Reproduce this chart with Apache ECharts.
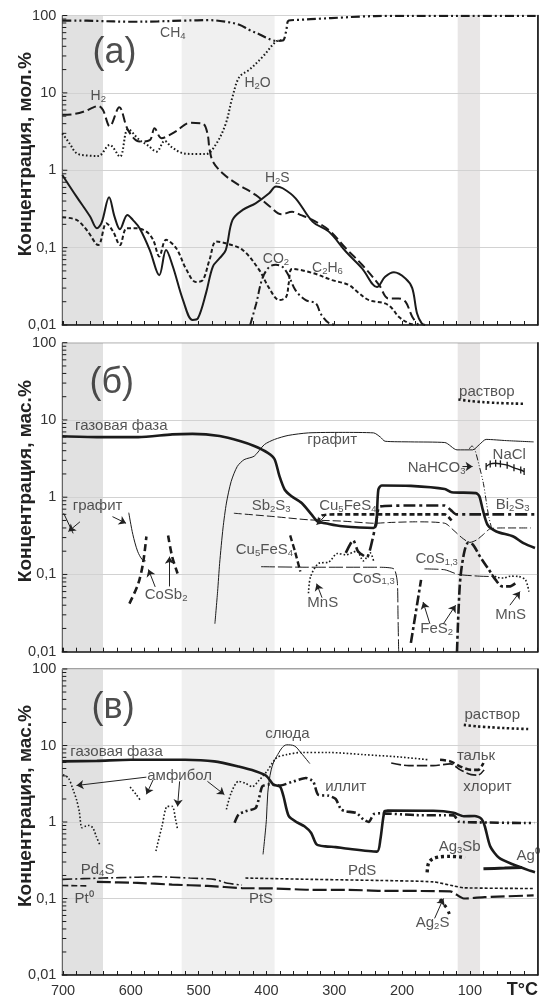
<!DOCTYPE html>
<html>
<head>
<meta charset="utf-8">
<script src="https://cdn.jsdelivr.net/npm/echarts@6/dist/echarts.min.js"></script>
<style>html,body{margin:0;padding:0;background:#fff}#c{width:540px;height:999px}</style>
</head>
<body>
<div id="c"></div>
<script>
const FONT = '"Liberation Sans", Arial, sans-serif';
const INK = '#1b1b1b';

// ---- axes ----
const xLabelStep = 100;
const yTicks = [0.01,0.02,0.03,0.04,0.05,0.06,0.07,0.08,0.09,0.1,0.2,0.3,0.4,0.5,0.6,0.7,0.8,0.9,1,2,3,4,5,6,7,8,9,10,20,30,40,50,60,70,80,90,100];
const yMajor = [0.01,0.1,1,10,100];
const yTitles = ['Концентрация, мол.%','Концентрация, мас.%','Концентрация, мас.%'];

// shaded temperature intervals [from, to, colour]
const bands = [[701,641,'#e1e1e1'],[525,388,'#f0f0f0'],[118,85,'#e8e6e6']];

// ---- (а) gas composition, mol.% : [T, value] ----
const ch4 = [[701,86],[680,86],[650,85],[600,83],[560,84],[520,86],[484,87],[460,83],[440,76],[425,65],[410,57],[401,52],[386,47],[376,47.5],[371,62],[367,86],[350,88],[320,91],[290,94],[260,97],[220,99],[150,99],[80,99],[3,99]];
const h2o = [[701,3.0],[690,2.2],[680,1.66],[665,1.55],[648,1.53],[631,2.12],[616,1.5],[604,3.4],[587,2.45],[575,2.1],[562,1.74],[550,2.4],[540,2.0],[523,1.66],[505,1.62],[489,1.62],[474,2.2],[460,4.0],[450,8.9],[440,16],[425,20],[406,29],[386,46],[378,48]];
const h2 = [[701,5.2],[685,5.3],[670,5.7],[655,6.5],[648,6.8],[641,6.0],[631,3.7],[617,6.5],[604,3.3],[587,2.35],[572,2.45],[565,3.5],[555,2.6],[548,2.7],[533,3.2],[513,4.1],[494,4.0],[487,3.0],[484,1.9],[479,1.3],[465,0.92],[445,0.68],[416,0.48],[395,0.34],[378,0.27],[362,0.29],[350,0.265],[332,0.228],[308,0.169],[283,0.098],[259,0.06],[234,0.033],[220,0.022],[205,0.022],[195,0.02],[185,0.0128],[176,0.01]];
const h2s = [[701,0.87],[680,0.456],[660,0.252],[650,0.178],[643,0.21],[632,0.448],[624,0.252],[616,0.173],[605,0.265],[597,0.228],[587,0.178],[572,0.093],[558,0.044],[548,0.093],[538,0.057],[523,0.021],[509,0.0116],[501,0.0122],[489,0.026],[479,0.057],[469,0.073],[460,0.093],[450,0.228],[435,0.307],[416,0.374],[396,0.504],[386,0.616],[376,0.585],[357,0.434],[332,0.217],[308,0.161],[283,0.089],[259,0.054],[237,0.031],[225,0.042],[212,0.048],[195,0.04],[185,0.03],[178,0.0142],[171,0.0105],[166,0.01]];
const c2h6 = [[701,0.247],[680,0.228],[665,0.169],[648,0.108],[636,0.206],[626,0.161],[616,0.108],[606,0.178],[592,0.178],[577,0.161],[567,0.126],[558,0.077],[548,0.126],[533,0.098],[518,0.052],[504,0.036],[494,0.038],[484,0.069],[474,0.12],[460,0.114],[435,0.093],[411,0.052],[396,0.03],[381,0.021],[371,0.023],[367,0.035],[362,0.053],[332,0.047],[303,0.038],[279,0.033],[264,0.026],[249,0.021],[225,0.019],[215,0.0165],[205,0.0128],[190,0.0105],[181,0.01]];
const co2 = [[424,0.01],[415,0.019],[406,0.04],[396,0.056],[386,0.06],[376,0.056],[367,0.043],[357,0.028],[342,0.021],[327,0.019],[320,0.014],[308,0.0106],[296,0.01]];

// ---- (б) solid phases, mass % ----
const gasB = [[701,6.15],[650,6.0],[589,6.0],[539,6.5],[509,6.6],[469,6.2],[438,5.3],[418,4.6],[398,3.75],[388,3.1],[381,1.9],[373,1.25],[363,1.03],[348,0.84],[333,0.59],[325,0.49],[308,0.45],[288,0.42],[242,0.40],[238,0.45],[235,1.25],[230,1.42],[187,1.4],[137,1.28],[127,1.16],[91,1.13],[86,1.03],[81,0.69],[74,0.44],[61,0.36],[36,0.31],[21,0.254],[4,0.22]];
const graphiteB = [[476,0.023],[472,0.06],[469,0.139],[464,0.4],[459,0.84],[452,1.6],[443,2.5],[433,3.06],[418,3.4],[403,4.8],[388,5.6],[368,6.3],[338,6.8],[288,6.9],[242,6.8],[232,6.0],[225,5.3],[187,5.2],[137,5.1],[119,4.1],[96,4.1],[86,4.8],[76,5.6],[46,5.4],[6,5.2]];
const graphiteB1 = [[699,0.62],[685,0.34]];
const graphiteB2 = [[603,0.63],[597,0.33],[590,0.2],[583,0.155],[578,0.15]];
const sb2s3 = [[448,0.62],[388,0.56],[338,0.51],[288,0.49],[240,0.46],[220,0.47],[180,0.48],[137,0.46],[125,0.38],[112,0.3],[100,0.26],[90,0.28],[80,0.33],[70,0.39],[50,0.40],[10,0.40]];
const cu5fes4A = [[325,0.47],[318,0.58],[300,0.6],[240,0.6],[180,0.6],[137,0.6],[127,0.5]];
const cu5fes4B = [[365,0.32],[358,0.2],[350,0.109]];
const bi2s3 = [[283,0.19],[272,0.28],[265,0.2],[252,0.166],[243,0.3],[237,0.55],[233,0.76],[180,0.78],[137,0.78],[128,0.68],[120,0.6],[100,0.6],[50,0.6],[3,0.6]];
const cos13A = [[408,0.126],[338,0.124],[237,0.124],[212,0.118],[207,0.08],[206,0.03],[205,0.01]];
const cos13B = [[167,0.118],[137,0.115],[117,0.1],[86,0.095],[66,0.094]];
const mnsA = [[338,0.057],[335,0.093],[323,0.139],[308,0.145],[295,0.187],[283,0.18],[267,0.2],[257,0.15],[247,0.19],[242,0.15]];
const mnsB = [[68,0.1],[60,0.092],[50,0.09],[40,0.095],[28,0.094],[18,0.085],[13,0.06]];
const fes2A = [[187,0.013],[172,0.085]];
const fes2B = [[119,0.01],[117,0.03],[114,0.09],[108,0.2],[102,0.26],[95,0.24],[85,0.17],[72,0.115],[62,0.085],[52,0.07],[42,0.07],[32,0.078]];
const cosb2A = [[602,0.042],[589,0.076],[582,0.139],[577,0.31]];
const cosb2B = [[545,0.32],[539,0.17],[531,0.103]];
const nahco3 = [[101,4.2],[97,4.6],[93,4.2],[86,2.5],[80,1.5],[76,0.9],[72,0.55],[68,0.4]];
const nacl = [[76,2.5],[70,2.7],[62,2.75],[55,2.7],[45,2.6],[35,2.4],[25,2.25],[20,2.15]];
const solB = [[117,18.4],[100,17.6],[80,17],[60,16.6],[35,16.3],[20,16.2]];

// ---- (в) silicates and noble-metal phases, mass % ----
const gasC = [[701,6.2],[650,6.3],[600,6.5],[520,6.5],[477,6.2],[441,5.3],[416,4.6],[400,4.0],[390,3.1],[380,2.9],[375,2.2],[367,1.19],[354,0.98],[344,0.88],[334,0.72],[326,0.51],[313,0.48],[298,0.47],[283,0.45],[237,0.41],[232,0.59],[226,1.38],[221,1.41],[154,1.4],[124,1.32],[109,1.19],[93,1.2],[83,1.1],[78,0.88],[70,0.48],[57,0.34],[37,0.28],[11,0.23],[4,0.22]];
const mica = [[405,0.377],[400,1.08],[398,2.4],[393,4.8],[385,7.2],[370,10.2],[359,9.9],[349,8.0],[336,5.8]];
const amphA = [[700,4.16],[692,3.76],[685,2.63],[680,1.95],[676,1.38],[672,0.84],[667,0.88],[662,0.9],[656,0.84],[651,0.65],[646,0.51]];
const amphB = [[601,2.87],[592,2.28],[585,1.87]];
const amphC = [[563,0.417],[554,0.88],[546,1.6],[539,1.6],[534,1.08],[531,0.8]];
const amphD = [[459,1.46],[452,2.4],[441,3.4],[431,3.2],[421,2.9],[411,3.5],[400,4.5],[385,6.9],[370,7.6],[349,8.1],[308,8.1],[257,7.6],[206,7.1],[160,6.5]];
const illite = [[447,0.98],[441,1.26],[431,1.38],[416,1.52],[411,2.04],[406,2.93],[395,3.1],[380,3.0],[360,3.4],[342,3.76],[331,3.4],[324,2.28],[308,2.2],[298,2.0],[290,1.46],[283,1.38],[267,1.31],[257,1.08],[249,1.0],[242,1.26],[232,1.3],[180,1.23],[124,1.22],[116,1.01],[90,0.99],[20,0.97],[5,0.97]];
const talc = [[144,6.5],[129,6.2],[114,5.3],[98,4.8],[88,4.8],[80,5.9]];
const chlorite = [[216,5.9],[190,5.45],[154,5.45],[129,5.75],[114,4.8],[98,4.16],[88,4.1],[79,4.8]];
const solC = [[109,18.6],[90,17.8],[70,17.3],[50,16.9],[30,16.6],[14,16.4]];
const pd4s = [[701,0.178],[641,0.185],[590,0.19],[564,0.193],[513,0.185],[477,0.178],[457,0.158],[436,0.15]];
const pds = [[431,0.185],[334,0.178],[232,0.172],[154,0.165],[124,0.146],[109,0.138],[6,0.135]];
const pt0 = [[701,0.148],[662,0.146]];
const pts = [[650,0.165],[590,0.16],[539,0.152],[487,0.146],[436,0.137],[385,0.135],[334,0.13],[283,0.13],[232,0.126],[129,0.124],[109,0.1],[78,0.104],[6,0.11]];
const ag3sb = [[163,0.22],[161,0.29],[155,0.33],[145,0.35],[130,0.355],[115,0.35],[107,0.34]];
const ag2s = [[144,0.098],[139,0.085],[134,0.075],[129,0.059]];
const ag0 = [[80,0.245],[49,0.25],[23,0.255]];

// ---- annotations: [text, T, value] ----
const notesA = [['CH{s|4}',538,60],['H{s|2}O',413,13.3],['H{s|2}',648,9.1],['H{s|2}S',384,0.79],['CO{s|2}',386,0.0715],['C{s|2}H{s|6}',310,0.054]];
const notesB = [['газовая фаза',614,8.3],['графит',303,5.6],['NaHCO{s|3}',149,2.4],['NaCl',42,3.55],['Bi{s|2}S{s|3}',37,0.79],['Sb{s|2}S{s|3}',393,0.78],['Cu{s|5}FeS{s|4}',280,0.78],['Cu{s|5}FeS{s|4}',403,0.21],['CoS{s|1,3}',242,0.089],['CoS{s|1,3}',149,0.158],['MnS',317,0.043],['MnS',40,0.03],['FeS{s|2}',149,0.02],['CoSb{s|2}',548,0.054],['графит',649,0.78],['раствор',75,23]];
const notesC = [['газовая фаза',621,8.3],['амфибол',528,4.0],['иллит',283,2.9],['слюда',369,14.2],['тальк',91,7.4],['хлорит',74,2.9],['раствор',67,25],['Ag{s|3}Sb',115,0.48],['Ag⁰',14,0.36],['Ag{s|2}S',155,0.048],['PdS',259,0.23],['PtS',408,0.098],['Pt⁰',669,0.098],['Pd{s|4}S',649,0.24]];
const panelTags = [['(а)',624,32.5],['(б)',628,30],['(в)',626,31]];

// ---- pointer arrows: [[T0, v0], [T1, v1]] ----
const arrowsB = [[[675,0.48],[692,0.36]],[[627,0.56],[607,0.46]],[[564,0.069],[574,0.116]],[[543,0.07],[543,0.17]],[[313,0.58],[326,0.44]],[[318,0.05],[326,0.076]],[[111,2.5],[96,2.5]],[[159,0.023],[169,0.044]],[[139,0.023],[121,0.04]],[[41,0.04],[26,0.06]]];
const arrowsC = [[[577,3.86],[680,3.0]],[[567,3.57],[577,2.3]],[[528,3.4],[531,1.6]],[[487,3.4],[462,2.28]],[[152,0.055],[139,0.1]]];

// ---- build ----
const grids = [
  {left: 62.3, right: 2.3, top: 15.5, height: 309.5},
  {left: 62.3, right: 2.3, top: 342.7, height: 309},
  {left: 62.3, right: 2.3, top: 669, height: 306}
].map(g => Object.assign(g, {show: true, borderColor: '#444', borderWidth: 1, backgroundColor: 'transparent', outerBoundsMode: 'none', containLabel: false}));

const xAxes = [0, 1, 2].map(i => ({
  gridIndex: i, type: 'value', min: 0, max: 701, interval: 20, inverse: true,
  axisLine: {show: true, onZero: false, lineStyle: {color: INK, width: 1.6}},
  axisTick: {show: true, inside: true, length: 4, lineStyle: {color: INK, width: 1}},
  axisLabel: {show: i === 2, fontFamily: FONT, fontSize: 14.5, color: '#333', margin: 8,
    showMinLabel: false, showMaxLabel: false,
    formatter: v => (v > 0 && v % xLabelStep === 0) ? String(v) : ''},
  splitLine: {show: false}
}));

const yAxes = [0, 1, 2].map(i => ({
  gridIndex: i, type: 'log', logBase: 10, min: 0.01, max: 100, position: 'left',
  axisLine: {show: true, lineStyle: {color: INK, width: 1.6}},
  axisTick: {show: false},
  axisLabel: {fontFamily: FONT, fontSize: 14.5, color: '#333', margin: 6,
    formatter: v => String(+(+v).toPrecision(3)).replace('.', ',')},
  splitLine: {show: true, lineStyle: {color: '#d2d2d2', width: 1}},
  name: yTitles[i], nameLocation: 'middle', nameGap: 27, nameMoveOverlap: false,
  nameTextStyle: {fontFamily: FONT, fontSize: 19, fontWeight: 'bold', color: '#222', padding: [0, 0, 0, 32]}
}));

function curve(p, data, width, dash, smooth) {
  return {
    type: 'line', xAxisIndex: p, yAxisIndex: p, data: data,
    showSymbol: false, symbol: 'none', smooth: smooth === undefined ? 0.3 : smooth,
    lineStyle: {color: INK, width: width, type: dash || 'solid'},
    silent: true, z: 3
  };
}

// decade / sub-decade ticks on the log axis, placed through the axis scale
function logTicks(p) {
  return {
    type: 'custom', xAxisIndex: p, yAxisIndex: p, silent: true, z: 4, clip: false,
    data: yTicks.map(v => [701, v]),
    renderItem: (params, api) => {
      const v = api.value(1);
      const pt = api.coord([api.value(0), v]);
      const len = yMajor.indexOf(v) >= 0 ? 5 : 4;
      return {type: 'line', shape: {x1: pt[0], y1: pt[1], x2: pt[0] + len, y2: pt[1]},
        style: {stroke: INK, lineWidth: 1}};
    }
  };
}

function notes(p, list, size) {
  return {
    type: 'scatter', xAxisIndex: p, yAxisIndex: p, symbolSize: 0, silent: true, z: 6,
    data: list.map(n => ({value: [n[1], n[2]], name: n[0]})),
    label: {
      show: true, position: 'inside', formatter: d => d.name,
      fontFamily: FONT, fontSize: size || 14, color: '#2a2a2a', lineHeight: 17,
      rich: {s: {fontFamily: FONT, fontSize: 9.5, lineHeight: 9, verticalAlign: 'bottom', color: '#2a2a2a'}}
    }
  };
}

function arrows(p, list) {
  return {
    type: 'lines', coordinateSystem: 'cartesian2d', xAxisIndex: p, yAxisIndex: p,
    symbol: ['none', 'arrow'], symbolSize: 7, silent: true, z: 5,
    lineStyle: {color: '#222', width: 1, opacity: 1, curveness: 0},
    data: list.map(a => ({coords: a}))
  };
}

function shading(p) {
  return {
    type: 'line', xAxisIndex: p, yAxisIndex: p, data: [], z: -1, silent: true,
    markArea: {silent: true, z: -1,
      data: bands.map(b => [{xAxis: b[0], itemStyle: {color: b[2]}}, {xAxis: b[1]}])}
  };
}

const DASHDOT2 = [9, 3, 2, 3, 2, 3];
const series = [
  shading(0), shading(1), shading(2),
  logTicks(0), logTicks(1), logTicks(2),
  // (а)
  curve(0, ch4, 2.2, DASHDOT2, 0.35),
  curve(0, h2o, 2, [1.6, 2.2], 0.35),
  curve(0, h2, 2, [9, 4], 0.35),
  curve(0, h2s, 2, 'solid', 0.35),
  curve(0, c2h6, 2, [4, 2.5], 0.35),
  curve(0, co2, 2, [8, 3, 2, 3], 0.35),
  // (б)
  curve(1, gasB, 2.6, 'solid', 0.25),
  curve(1, graphiteB, 1, 'solid', 0.25),
  curve(1, graphiteB1, 1, 'solid', 0),
  curve(1, graphiteB2, 1, 'solid', 0.3),
  curve(1, sb2s3, 1, [8, 3], 0.25),
  curve(1, cu5fes4A, 2.6, [5, 3], 0.2),
  curve(1, cu5fes4B, 2.4, [6, 3], 0.2),
  curve(1, bi2s3, 2.6, [12, 4, 3, 4], 0.2),
  curve(1, cos13A, 1, [14, 3], 0.2),
  curve(1, cos13B, 1, [14, 3], 0.2),
  curve(1, mnsA, 1.6, [1.6, 2], 0.3),
  curve(1, mnsB, 1.6, [1.6, 2], 0.3),
  curve(1, fes2A, 2.6, [10, 3, 3, 3], 0),
  curve(1, fes2B, 2.6, [10, 3, 3, 3], 0.3),
  curve(1, cosb2A, 2.6, [7, 4], 0.3),
  curve(1, cosb2B, 2.6, [7, 4], 0.3),
  curve(1, nahco3, 1, [6, 2, 1, 2, 1, 2], 0.3),
  Object.assign(curve(1, nacl, 1.4, 'solid', 0.3), {showSymbol: true, symbol: 'rect', symbolSize: [1.3, 7], itemStyle: {color: INK}}),
  curve(1, solB, 2.6, [2.4, 2.4], 0.3),
  // (в)
  curve(2, gasC, 2.6, 'solid', 0.25),
  curve(2, mica, 1, 'solid', 0.35),
  curve(2, amphA, 1.6, [1.6, 2], 0.3),
  curve(2, amphB, 1.6, [1.6, 2], 0.3),
  curve(2, amphC, 1.6, [1.6, 2], 0.3),
  curve(2, amphD, 1.6, [1.6, 2], 0.3),
  curve(2, illite, 2.6, DASHDOT2, 0.2),
  curve(2, talc, 2.6, [6, 3], 0.3),
  curve(2, chlorite, 1.6, [10, 3], 0.3),
  curve(2, solC, 2.6, [2.4, 2.4], 0.3),
  curve(2, pd4s, 1.6, [10, 3, 2, 3], 0.2),
  curve(2, pds, 1.6, [3, 2], 0.2),
  curve(2, pt0, 1.6, [6, 3], 0),
  curve(2, pts, 2.2, [14, 4], 0.2),
  curve(2, ag3sb, 3.4, [3, 3], 0.3),
  curve(2, ag2s, 3, [2.5, 5], 0.2),
  curve(2, ag0, 3, 'solid', 0.2),
  // annotations
  notes(0, notesA, 14), notes(1, notesB, 15), notes(2, notesC, 15),
  arrows(1, arrowsB), arrows(2, arrowsC)
];
panelTags.forEach((t, i) => {
  const s = notes(i, [t], 36);
  s.label.color = '#222';
  series.push(s);
});

const chart = echarts.init(document.getElementById('c'), null, {renderer: 'canvas'});
chart.setOption({
  animation: false,
  backgroundColor: '#fff',
  grid: grids,
  xAxis: xAxes,
  yAxis: yAxes,
  series: series,
  graphic: [{type: 'text', right: 2, top: 981, style: {text: 'T°C', font: 'bold 18px ' + FONT, fill: '#222'}}]
});
</script>
</body>
</html>
